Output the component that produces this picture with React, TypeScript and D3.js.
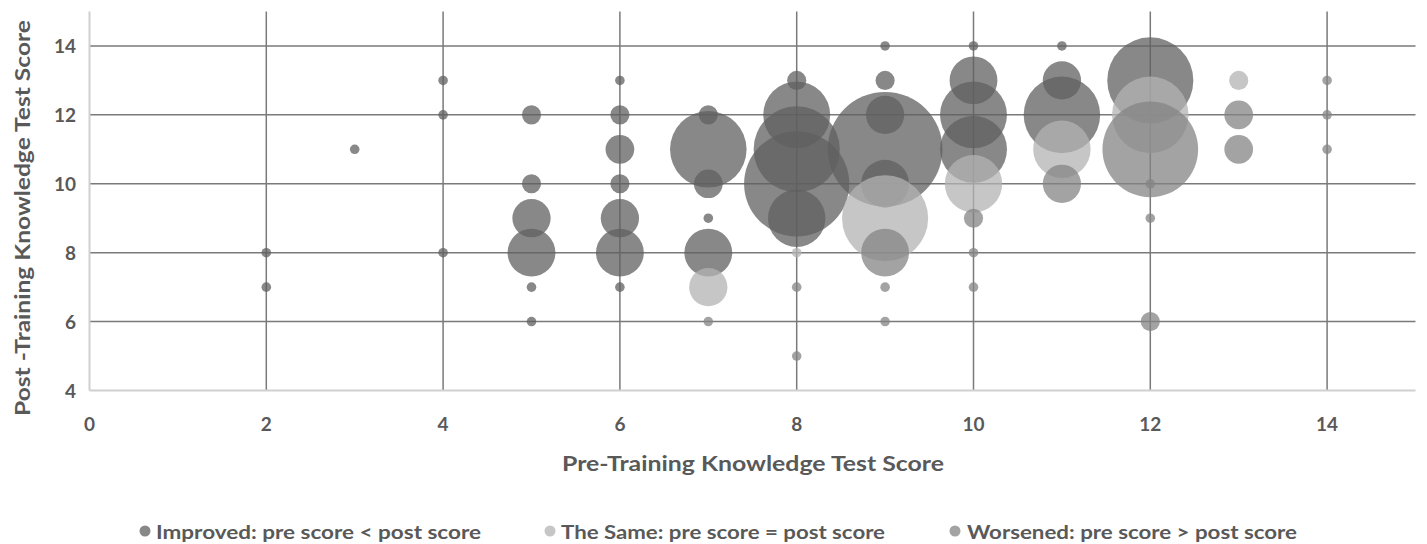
import React from "react";
import * as d3 from "d3";

// [pre, post, size]
const improved: [number, number, number][] = [
  [2, 8, 1], [2, 7, 1], [3, 11, 1], [4, 13, 1], [4, 12, 1], [4, 8, 1],
  [5, 12, 2], [5, 10, 2], [5, 9, 4], [5, 8, 5], [5, 7, 1], [5, 6, 1],
  [6, 13, 1], [6, 12, 2], [6, 11, 3], [6, 10, 2], [6, 9, 4], [6, 8, 5], [6, 7, 1],
  [7, 12, 2], [7, 11, 8], [7, 10, 3], [7, 9, 1], [7, 8, 5],
  [8, 13, 2], [8, 12, 7], [8, 11, 9], [8, 10, 11], [8, 9, 6],
  [9, 14, 1], [9, 13, 2], [9, 12, 4], [9, 11, 12], [9, 10, 5],
  [10, 14, 1], [10, 13, 5], [10, 12, 7], [10, 11, 7],
  [11, 14, 1], [11, 13, 4], [11, 12, 8],
  [12, 13, 9],
];
const same: [number, number, number][] = [
  [7, 7, 4], [8, 8, 1], [9, 9, 9], [10, 10, 6], [11, 11, 6], [12, 12, 8], [13, 13, 2],
];
const worsened: [number, number, number][] = [
  [7, 6, 1], [8, 7, 1], [8, 5, 1], [9, 8, 5], [9, 7, 1], [9, 6, 1],
  [10, 9, 2], [10, 8, 1], [10, 7, 1], [11, 10, 4],
  [12, 11, 10], [12, 10, 1], [12, 9, 1], [12, 6, 2],
  [13, 12, 3], [13, 11, 3], [14, 13, 1], [14, 12, 1], [14, 11, 1],
];
const xTicks = [0, 2, 4, 6, 8, 10, 12, 14];
const yTicks = [4, 6, 8, 10, 12, 14];
const seriesNames = [
  "Improved: pre score < post score",
  "The Same: pre score = post score",
  "Worsened: pre score > post score",
];
const xTitle = "Pre-Training Knowledge Test Score";
const yTitle = "Post -Training Knowledge Test Score";

const W = 1427;
const H = 544;
const plot = { left: 89.5, right: 1415.5, top: 11.5, bottom: 390.5 };
const FONT = "Lato, 'Open Sans', sans-serif";
const TXT = "#595959";

const series = [
  { data: improved, fill: "#606060", legend: "#888888" },
  { data: same, fill: "#b3b3b3", legend: "#c6c6c6" },
  { data: worsened, fill: "#848484", legend: "#a3a3a3" },
];

export default function App() {
  const x = d3.scaleLinear().domain([0, 15]).range([plot.left, plot.right]);
  const y = d3.scaleLinear().domain([4, 15]).range([plot.bottom, plot.top]);
  const r = d3.scaleLinear().domain([0, 12]).range([0, 57.4]);

  const legendItems = [
    { mx: 145, tx: 156, len: 325 },
    { mx: 550, tx: 561, len: 324 },
    { mx: 955, tx: 967, len: 330 },
  ];

  return (
    <svg width={W} height={H} style={{ position: "absolute", left: 0, top: 0, background: "#fff" }}>
      {/* gridlines */}
      {xTicks.filter((t) => t > 0).map((t) => (
        <line key={"gx" + t} x1={x(t)} x2={x(t)} y1={plot.top} y2={plot.bottom} stroke="#7a7a7a" strokeWidth={1.5} />
      ))}
      {yTicks.filter((t) => t > 4).map((t) => (
        <line key={"gy" + t} x1={plot.left} x2={plot.right} y1={y(t)} y2={y(t)} stroke="#7a7a7a" strokeWidth={1.5} />
      ))}
      {/* axes */}
      <line x1={plot.left} x2={plot.left} y1={plot.top} y2={plot.bottom} stroke="#d0d0d0" strokeWidth={2} />
      <line x1={plot.left} x2={plot.right} y1={plot.bottom} y2={plot.bottom} stroke="#d0d0d0" strokeWidth={2} />

      {/* bubbles */}
      {series.map((s, si) => (
        <g key={si}>
          {[...s.data]
            .sort((a, b) => b[2] - a[2])
            .map((d, i) => (
              <circle key={i} cx={x(d[0])} cy={y(d[1])} r={r(d[2])} fill={s.fill} fillOpacity={0.75} />
            ))}
        </g>
      ))}

      {/* tick labels */}
      {xTicks.map((t) => (
        <text key={"tx" + t} x={x(t)} y={423} textAnchor="middle" dominantBaseline="central"
          fontFamily={FONT} fontWeight="bold" fontSize={19} fill={TXT}>{t}</text>
      ))}
      {yTicks.map((t) => (
        <text key={"ty" + t} x={76} y={y(t)} textAnchor="end" dominantBaseline="central"
          fontFamily={FONT} fontWeight="bold" fontSize={19} fill={TXT}>{t}</text>
      ))}

      {/* axis titles */}
      <text x={(562 + 944) / 2} y={462} textAnchor="middle" dominantBaseline="central"
        fontFamily={FONT} fontWeight="bold" fontSize={21} fill={TXT}
        textLength={382} lengthAdjust="spacingAndGlyphs">{xTitle}</text>
      <text transform={`translate(21,${(20 + 416) / 2}) rotate(-90)`} textAnchor="middle" dominantBaseline="central"
        fontFamily={FONT} fontWeight="bold" fontSize={21} fill={TXT}
        textLength={396} lengthAdjust="spacingAndGlyphs">{yTitle}</text>

      {/* legend */}
      {seriesNames.map((name, i) => (
        <g key={"lg" + i}>
          <circle cx={legendItems[i].mx} cy={531} r={5.5} fill={series[i].legend} />
          <text x={legendItems[i].tx} y={531} dominantBaseline="central"
            fontFamily={FONT} fontWeight="bold" fontSize={19} fill={TXT}
            textLength={legendItems[i].len} lengthAdjust="spacingAndGlyphs">{name}</text>
        </g>
      ))}
    </svg>
  );
}
